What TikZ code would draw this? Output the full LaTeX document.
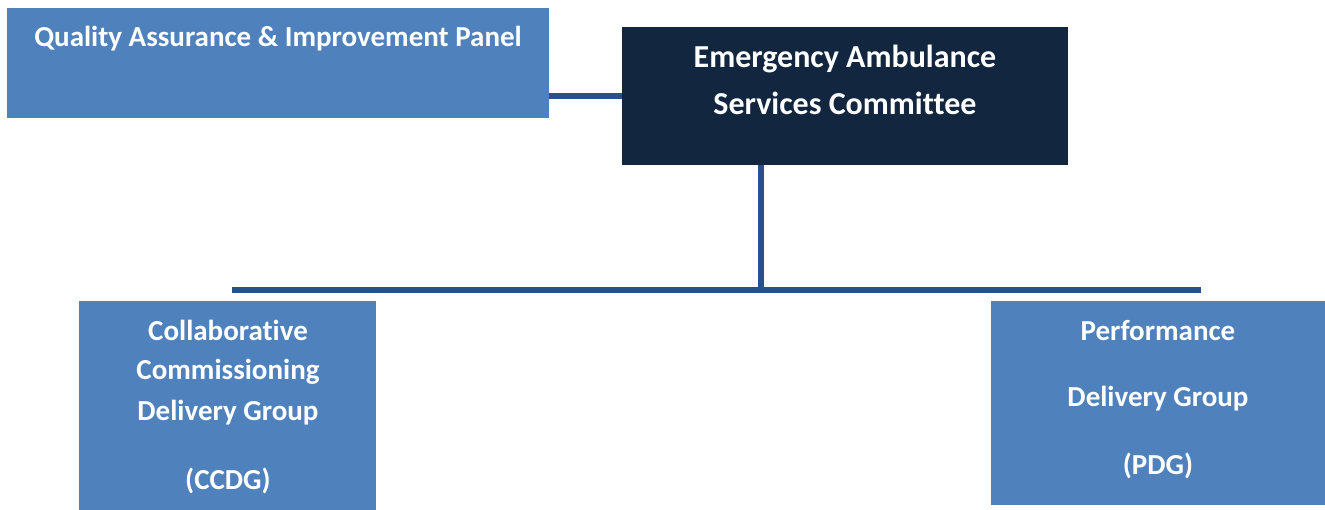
\documentclass[tikz,border=0pt]{standalone}
\usepackage{fontspec}
\setmainfont[Ligatures=NoCommon]{Carlito}
\definecolor{panelblue}{HTML}{4F81BD}
\definecolor{committee}{HTML}{12263F}
\definecolor{linkblue}{HTML}{29508A}
\begin{document}
\begin{tikzpicture}[x=1pt,y=-1pt]
	\tikzset{org box/.style={fill=panelblue,inner sep=0pt,anchor=north west},
		box text/.style={text=white,font=\fontsize{29}{34}\selectfont\bfseries},
		big text/.style={box text,font=\fontsize{32}{38}\selectfont\bfseries},
		link/.style={draw=linkblue,line width=6pt}}
	\useasboundingbox (0,0) rectangle (1325,510);
	% boxes, placed by their top left corner
	\node [org box,minimum width=542,minimum height=110] (qaip) at (7,8) {};
		\node [box text]	at (278,39)		{Quality Assurance \& Improvement Panel};
	\node [org box,fill=committee,minimum width=446,minimum height=138] (easc) at (622,27) {};
		\node [big text]	at (845,59)		{Emergency Ambulance};
		\node [big text]	at (845,103)	{Services Committee};
	\node [org box,minimum width=297,minimum height=209] (ccdg) at (79,301) {};
		\node [box text]	at (228,330)	{Collaborative};
		\node [box text]	at (228,372)	{Commissioning};
		\node [box text]	at (228,413)	{Delivery Group};
		\node [box text]	at (228,481)	{(CCDG)};
	\node [org box,minimum width=334,minimum height=204] (pdg) at (991,301) {};
		\node [box text]	at (1158,331)	{Performance};
		\node [box text]	at (1158,399)	{Delivery Group};
		\node [box text]	at (1158,466)	{(PDG)};
	% connectors
	\coordinate (barL) at (232,290);
	\coordinate (barR) at (1201,290);
	\coordinate (stem) at (761,290);
	\draw [link] (easc.west) -- (easc.west -| qaip.east);
	\draw [link] (stem |- easc.south) -- (stem);
	\draw [link] (barL) -- (barR);
\end{tikzpicture}
\end{document}
